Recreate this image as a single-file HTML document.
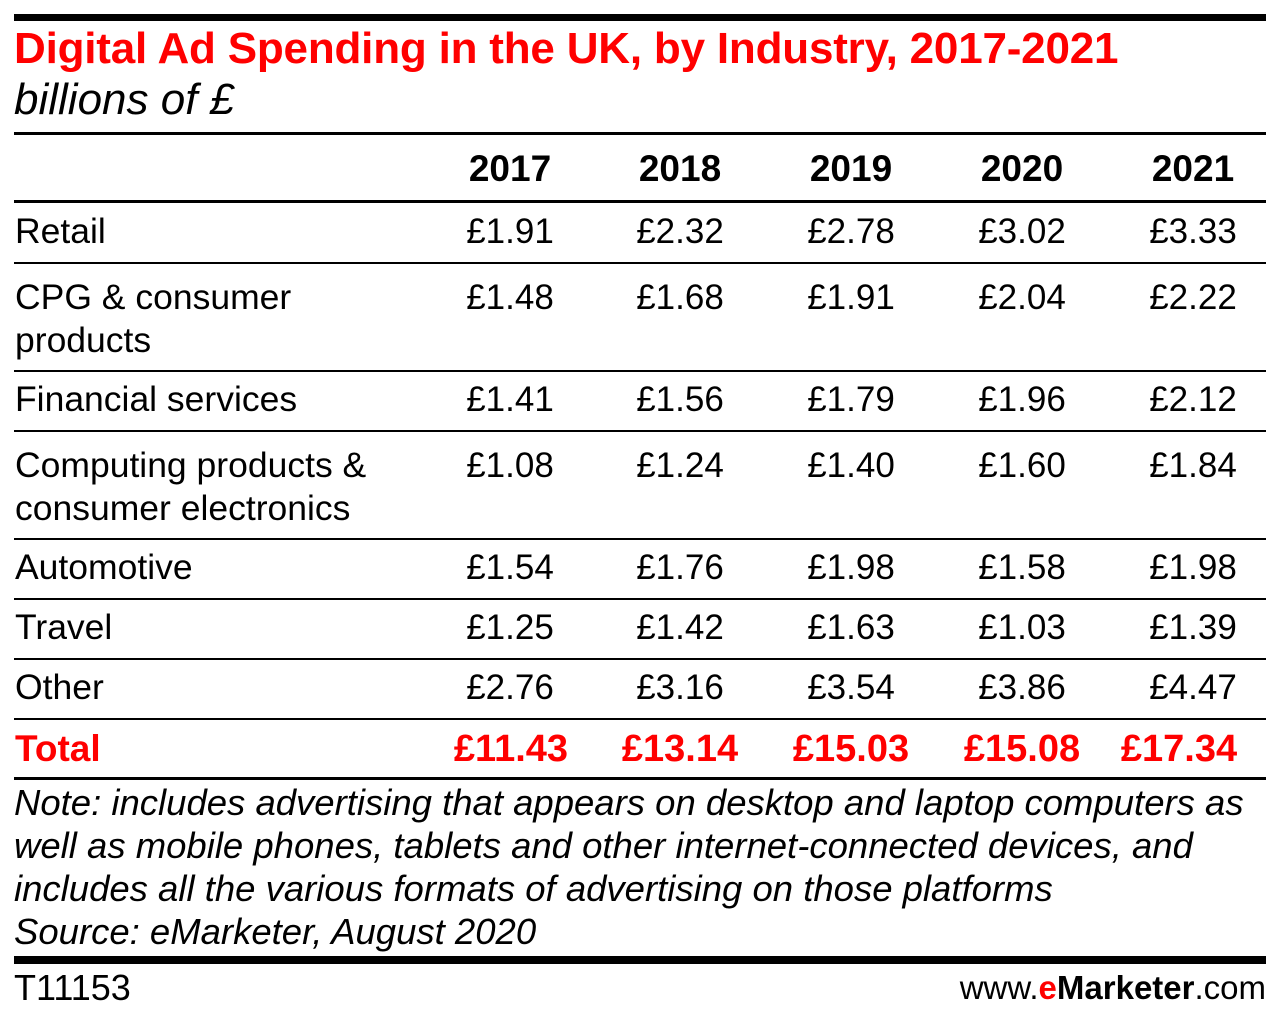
<!DOCTYPE html>
<html><head><meta charset="utf-8"><style>
body{margin:0;width:1280px;height:1024px;background:#fff;position:relative;overflow:hidden;font-family:"Liberation Sans",sans-serif;color:#000}
.t{position:absolute;white-space:nowrap;line-height:1}
.hl{position:absolute;left:14px;width:1252px;background:#000}
.c{position:absolute;white-space:nowrap;line-height:1;text-align:center;width:170px}
</style></head><body>
<div class="hl" style="top:14px;height:7px"></div>
<div class="t" style="left:14px;top:27px;font-size:44px;font-weight:bold;color:#f00;letter-spacing:-0.2px">Digital Ad Spending in the UK, by Industry, 2017-2021</div>
<div class="t" style="left:14px;top:78px;font-size:44px;font-style:italic">billions of £</div>
<div class="hl" style="top:132px;height:3px"></div>
<div class="hl" style="top:200px;height:3px"></div>
<div id="tbl"></div>
<div class="t" style="left:14px;top:781px;font-size:36.5px;font-style:italic;line-height:43px">Note: includes advertising that appears on desktop and laptop computers as<br>well as mobile phones, tablets and other internet-connected devices, and<br>includes all the various formats of advertising on those platforms<br>Source: eMarketer, August 2020</div>
<div class="hl" style="top:956px;height:8px"></div>
<div class="t" style="left:14px;top:970px;font-size:36px">T11153</div>
<div class="t" style="right:14px;top:971px;font-size:33px">www.<b style="color:#f00">e</b><b>Marketer</b>.com</div>
<script>
const years=["2017","2018","2019","2020","2021"];
const labels=[["Retail"],["CPG & consumer","products"],["Financial services"],["Computing products &","consumer electronics"],["Automotive"],["Travel"],["Other"]];
const retail=["£1.91","£2.32","£2.78","£3.02","£3.33"];
const cpg=["£1.48","£1.68","£1.91","£2.04","£2.22"];
const financial=["£1.41","£1.56","£1.79","£1.96","£2.12"];
const computing=["£1.08","£1.24","£1.40","£1.60","£1.84"];
const automotive=["£1.54","£1.76","£1.98","£1.58","£1.98"];
const travel=["£1.25","£1.42","£1.63","£1.03","£1.39"];
const other=["£2.76","£3.16","£3.54","£3.86","£4.47"];
const totals=["£11.43","£13.14","£15.03","£15.08","£17.34"];
const rows=[retail,cpg,financial,computing,automotive,travel,other];
const tbl=document.getElementById('tbl');
const colC=[510,680,851,1022,1193];
function add(txt,x,top,size,extra,cls){const d=document.createElement('div');d.className=cls;d.textContent=txt;d.style.left=(cls==='c'?x-85:x)+'px';d.style.top=top+'px';d.style.fontSize=size+'px';if(extra)d.style.cssText+=extra;tbl.appendChild(d);return d;}
years.forEach((y,i)=>{const d=add(y,colC[i],150,37,'font-weight:bold','c');

});
const rowTop=[203,263,371,431,539,599,659];
const rowBot=[263,371,431,539,599,659,719];
rows.forEach((r,ri)=>{
 const off=labels[ri].length>1?17:11;
 labels[ri].forEach((l,li)=>{const d=add(l,15,rowTop[ri]+off+li*43,35.5,'','t');
 
 });
 r.forEach((v,ci)=>{const d=add(v,colC[ci],rowTop[ri]+off,35,'','c');
 
 });
 const ln=document.createElement('div');ln.className='hl';ln.style.top=(rowBot[ri]-1)+'px';ln.style.height='2px';
 
 
 tbl.appendChild(ln);
});
const tl=add("Total",15,730,37,'font-weight:bold;color:#f00','t');


totals.forEach((v,ci)=>{const d=add(v,colC[ci]+(ci===0?1:ci===4?-14:0),730,38,'font-weight:bold;color:#f00','c');

});
const ln=document.createElement('div');ln.className='hl';ln.style.top='777px';ln.style.height='3px';


tbl.appendChild(ln);
</script>
</body></html>
